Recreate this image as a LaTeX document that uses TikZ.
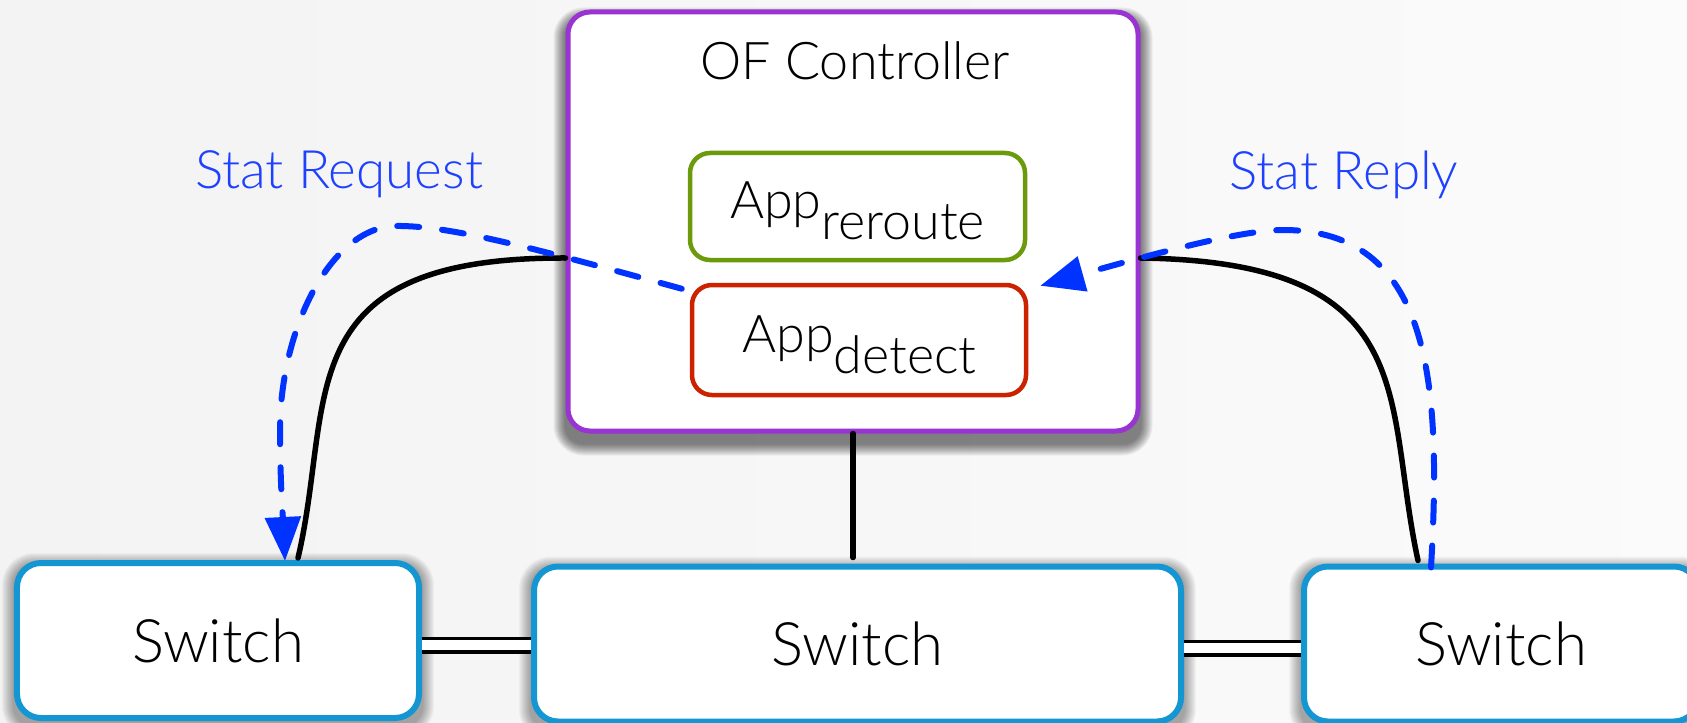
\documentclass[tikz,border=0pt]{standalone}
\usepackage{fontspec}
\setmainfont{Lato}[UprightFont={* Light}]
\usetikzlibrary{arrows.meta,calc}

\definecolor{bgcol}{RGB}{248,248,248}
\definecolor{ctrlpurple}{RGB}{153,51,210}
\definecolor{appgreen}{RGB}{107,155,10}
\definecolor{appred}{RGB}{204,34,0}
\definecolor{swblue}{RGB}{20,150,210}
\definecolor{msgblue}{RGB}{0,51,255}
\definecolor{labelblue}{RGB}{30,64,255}

\pgfdeclarelayer{canvas}
\pgfdeclarelayer{shadow}
\pgfsetlayers{canvas,shadow,main}

\newcommand{\fsz}[1]{\fontsize{#1bp}{1.2\dimexpr#1bp\relax}\selectfont}

% soft drop shadow under a rounded box: node, downward offset, corner radius, strength
\newcommand{\softshadow}[4]{%
  \foreach \r in {1,...,12} {%
    \pgfmathsetmacro{\rc}{#3+\r}%
    \fill[black, opacity=#4, rounded corners=\rc bp]
      ($(#1.south west)+(-\r,#2+\r)$) rectangle ($(#1.north east)+(\r,#2-\r)$);
  }%
}

\tikzset{
  ctrlbox/.style={draw=ctrlpurple, line width=5bp, fill=white, rounded corners=22bp,
    minimum width=570bp, minimum height=419bp},
  appbox/.style={line width=4.5bp, fill=white, rounded corners=20bp},
  swbox/.style={draw=swblue, line width=6bp, fill=white, rounded corners=24bp,
    minimum height=155bp, font=\fsz{60}},
  boxtext/.style={font=\fsz{52}, inner sep=0pt, anchor=base},
  msglabel/.style={font=\fsz{53}, text=labelblue, inner sep=0pt, anchor=base},
  wire/.style={line width=5.5bp, black, line cap=round},
  trunk/.style={double=white, line width=3.5bp, double distance=10bp, black},
  msgpath/.style={msgblue, line width=6bp, line cap=round, dash pattern=on 22bp off 23bp,
    -{Triangle[length=44bp, width=35bp]}},
}

\begin{document}
\begin{tikzpicture}[x=1bp, y=-1bp]
  \clip (0,0) rectangle (1687,723);
  \begin{pgfonlayer}{canvas}
    \shade[left color=bgcol!98!black, right color=bgcol!60!white] (0,0) rectangle (1687,723);
  \end{pgfonlayer}

  % controller and its applications
  \node[ctrlbox] (ctrl) at (853,221.5) {};
  \node[boxtext] (ctitle) at (855,80) {OF Controller};
  \node[appbox, draw=appgreen, minimum width=335bp, minimum height=107bp] (rer) at (857.5,206.5) {};
  \node[boxtext] (rertext) at (857.5,218) {App\raisebox{-21bp}{reroute}};
  \node[appbox, draw=appred, minimum width=334bp, minimum height=110bp] (det) at (859,340) {};
  \node[boxtext] (dettext) at (859.5,352) {App\raisebox{-21bp}{detect}};

  % switches
  \node[swbox, minimum width=402bp] (sw1) at (218,640.5) {Switch};
  \node[swbox, minimum width=647bp] (sw2) at (857.5,644) {Switch};
  \node[swbox, minimum width=394bp] (sw3) at (1501,644) {Switch};

  % drop shadows
  \begin{pgfonlayer}{shadow}
    \softshadow{ctrl}{10}{18}{0.05}
    \softshadow{sw1}{5}{20}{0.03}
    \softshadow{sw2}{5}{20}{0.03}
    \softshadow{sw3}{5}{20}{0.03}
  \end{pgfonlayer}

  % links between switches
  \draw[trunk] (sw1.east |- 0,645) -- (sw2.west |- 0,645);
  \draw[trunk] (sw2.east |- 0,648) -- (sw3.west |- 0,648);

  % control channels
  \coordinate (cL) at ($(ctrl.west)+(0,36.5)$);
  \coordinate (cR) at ($(ctrl.east)+(0,36.5)$);
  \coordinate (s1in) at ($(sw1.north west)+(284,-2)$);
  \coordinate (s3in) at ($(sw3.north west)+(117,-3)$);
  \draw[wire] (ctrl.south) -- ([yshift=6bp]ctrl.south |- sw2.north);
  \draw[wire] (cL) .. controls (285,257) and (335,400) .. (s1in);
  \draw[wire] (cR) .. controls (1425,262) and (1383,400) .. (s3in);

  % statistics request and reply
  \coordinate (reqstart) at ($(det.north west)+(-8,6)$);
  \coordinate (reqpeak) at (395,226);
  \coordinate (reqmid) at (280,430);
  \coordinate (reqend) at ($(sw1.north west)+(271,1)$);
  \draw[msgpath] (reqstart) .. controls (540,250) and (450,225) .. (reqpeak)
    .. controls (330,228) and (280,330) .. (reqmid)
    .. controls (280,480) and (283,520) .. (reqend);

  \coordinate (repstart) at ($(sw3.north west)+(130,4)$);
  \coordinate (reppeak) at (1283,230);
  \coordinate (repend) at ($(det.north east)+(12,3)$);
  \draw[msgpath] (repstart) .. controls (1442,380) and (1430,230) .. (reppeak)
    .. controls (1240,230) and (1150,255) .. (repend);

  \node[msglabel] (req) at (339,188) {Stat Request};
  \node[msglabel] (rep) at (1344,189) {Stat Reply};
\end{tikzpicture}
\end{document}
